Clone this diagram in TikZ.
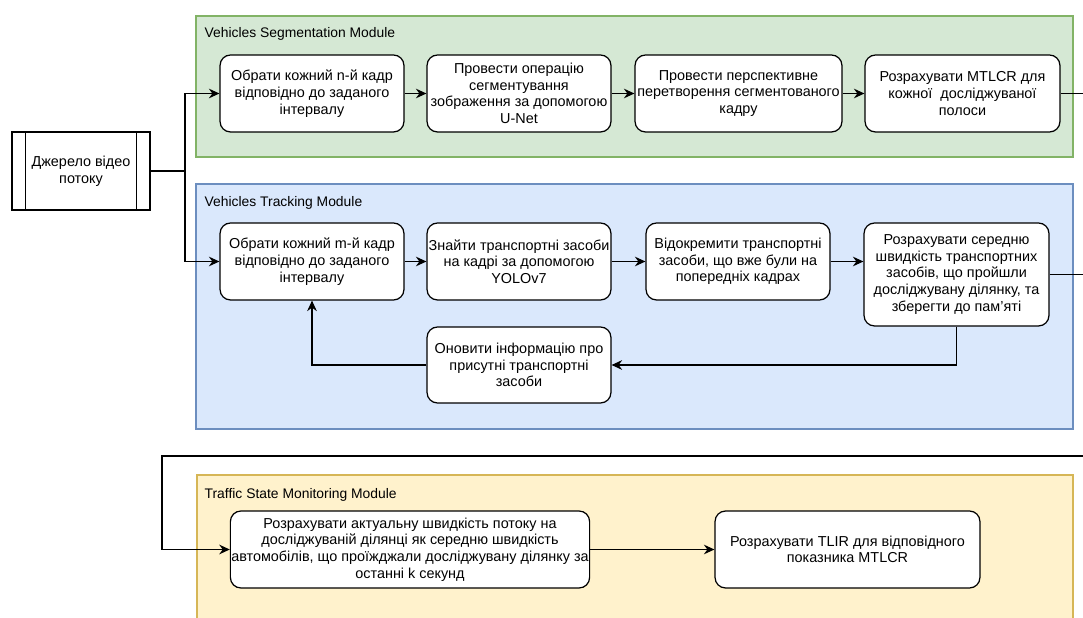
\documentclass[tikz,border=0pt]{standalone}
\usepackage{fontspec}
\setmainfont{Liberation Sans}
\usetikzlibrary{arrows.meta}
\definecolor{segfill}{HTML}{D5E8D4}
\definecolor{segline}{HTML}{82B366}
\definecolor{trkfill}{HTML}{DAE8FC}
\definecolor{trkline}{HTML}{6C8EBF}
\definecolor{monfill}{HTML}{FFF2CC}
\definecolor{monline}{HTML}{D6B656}
\tikzset{
  segm/.style={draw=segline,fill=segfill,line width=0.6pt},
  trk/.style={draw=trkline,fill=trkfill,line width=0.6pt},
  mon/.style={draw=monline,fill=monfill,line width=0.6pt},
  title/.style={anchor=west,inner sep=0pt,font=\fontsize{7.9}{9.6}\selectfont},
  stage/.style={draw,fill=white,rounded corners=6pt,align=center,inner sep=0.5pt,
    minimum width=3.68cm,minimum height=1.54cm,font=\fontsize{8.2}{9.5}\selectfont}
}

\begin{document}
\begin{tikzpicture}[x=0.02cm,y=-0.02cm,line width=0.7pt,>={Stealth[length=6pt,width=5.5pt,inset=2pt]}]
\path[use as bounding box,clip] (0,0) rectangle (1083,618);
%modules
\draw[segm] (196,16) rectangle (1073,157);
\draw[trk] (196,184) rectangle (1073,429);
\draw[mon] (197,475) rectangle (1073,640);
\node[title] (tseg) at (204,34) {Vehicles Segmentation Module};
\node[title] (ttrk) at (204,203) {Vehicles Tracking Module};
\node[title] (tmon) at (204,495) {Traffic State Monitoring Module};
%source
\node[stage,sharp corners,minimum width=2.76cm,minimum height=1.56cm] (src) at (81,171) {Джерело відео\\потоку};
\draw ([xshift=0.28cm]src.north west) -- ([xshift=0.28cm]src.south west);
\draw ([xshift=-0.28cm]src.north east) -- ([xshift=-0.28cm]src.south east);
\coordinate (split) at (185,171);
%segmentation
\node[stage] (g1) at (312,93.5) {Обрати кожний n-й кадр\\відповідно до заданого\\інтервалу};
\node[stage] (g2) at (519,93.5) {Провести операцію\\сегментування\\зображення за допомогою\\U-Net};
\node[stage,minimum width=4.14cm] (g3) at (738.5,93.5) {Провести перспективне\\перетворення сегментованого\\кадру};
\node[stage,minimum width=3.9cm] (g4) at (962.5,93.5) {Розрахувати MTLCR для\\кожної~ досліджуваної\\полоси};
%tracking
\node[stage] (b1) at (312,261.5) {Обрати кожний m-й кадр\\відповідно до заданого\\інтервалу};
\node[stage] (b2) at (519,261.5) {Знайти транспортні засоби\\на кадрі за допомогою\\YOLOv7};
\node[stage] (b3) at (738,261.5) {Відокремити транспортні\\засоби, що вже були на\\попередніх кадрах};
\node[stage,minimum width=3.7cm,minimum height=2.06cm] (b4) at (956.5,274.5) {Розрахувати середню\\швидкість транспортних\\засобів, що пройшли\\досліджувану ділянку, та\\зберегти до пам’яті};
\node[stage,minimum height=1.52cm] (b5) at (519,365) {Оновити інформацію про\\присутні транспортні\\засоби};
%monitoring
\node[stage,minimum width=7.12cm] (m1) at (410,549.5) {Розрахувати актуальну швидкість потоку на\\досліджуваній ділянці як середню швидкість\\автомобілів, що проїжджали досліджувану ділянку за\\останні k секунд};
\node[stage,minimum width=5.3cm] (m2) at (847.5,549.5) {Розрахувати TLIR для відповідного\\показника MTLCR};
%links
\draw (src.east) -- (split);
\draw[->] (split) |- (g1.west);
\draw[->] (split) |- (b1.west);
\draw[->] (g1) -- (g2);
\draw[->] (g2) -- (g3);
\draw[->] (g3) -- (g4);
\draw[->] (b1) -- (b2);
\draw[->] (b2) -- (b3);
\draw[->] (b3.east) -- (b3.east -| b4.west);
\draw[->] (b4.south) |- (b5.east);
\draw[->] (b5.west) -| (b1.south);
\draw[->] (m1.east |- m2.west) -- (m2.west);
\coordinate (gout) at (1083,93.5);
\coordinate (bout) at (1083,274.5);
\coordinate (back) at (1083,456);
\draw (g4.east) -- (gout);
\draw (b4.east) -- (bout);
\draw[->] (back) -- (162,456) |- (m1.west);
\end{tikzpicture}
\end{document}
